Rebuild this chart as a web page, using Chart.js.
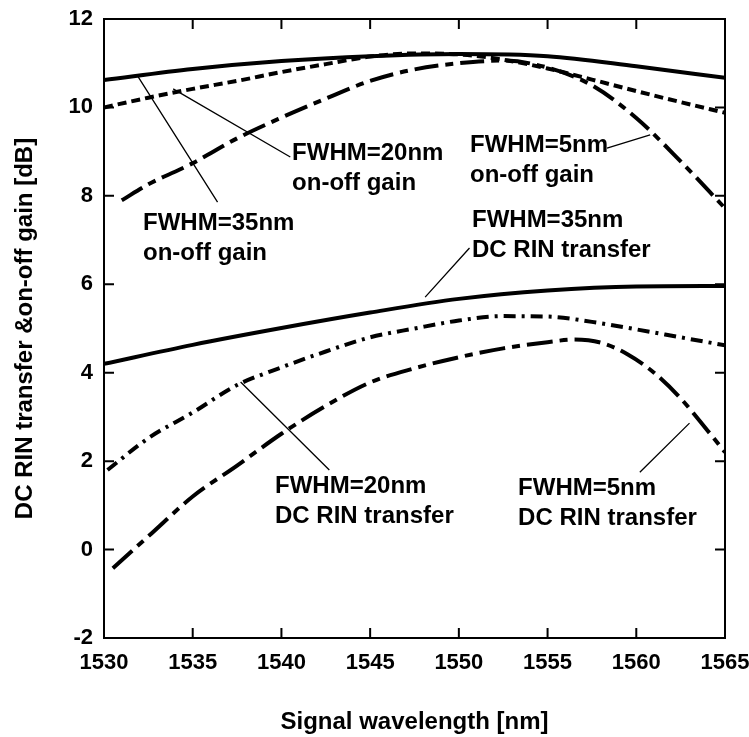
<!DOCTYPE html>
<html><head><meta charset="utf-8">
<script src="https://cdn.jsdelivr.net/npm/chart.js@4.4.1/dist/chart.umd.min.js"></script>
<style>html,body{margin:0;padding:0;background:#fff}</style>
</head><body>
<canvas id="c" width="749" height="737"></canvas>
<script>
// ---- data ----
const xTickValues = [1530, 1535, 1540, 1545, 1550, 1555, 1560, 1565];
const yTickValues = [-2, 0, 2, 4, 6, 8, 10, 12];

const wlGain35 = [1530, 1535, 1540, 1545, 1550, 1555, 1560, 1565];
const gain35   = [10.62, 10.87, 11.05, 11.16, 11.21, 11.16, 10.93, 10.67];

const wlGain20 = [1530, 1532.5, 1535, 1537.5, 1540, 1542.5, 1545, 1547.5, 1550, 1552.5, 1555, 1557.5, 1560, 1562.5, 1565];
const gain20   = [10.0, 10.22, 10.42, 10.6, 10.8, 10.98, 11.15, 11.22, 11.2, 11.08, 10.88, 10.63, 10.37, 10.12, 9.88];

const wlGain5 = [1531, 1532.5, 1535, 1537.5, 1540, 1542.5, 1545, 1547.5, 1550, 1552.5, 1555, 1557.5, 1560, 1562.5, 1565];
const gain5   = [7.9, 8.26, 8.74, 9.3, 9.77, 10.2, 10.6, 10.86, 11.0, 11.06, 10.9, 10.5, 9.76, 8.78, 7.72];

const wlRin35 = [1530, 1535, 1540, 1545, 1550, 1555, 1560, 1565];
const rin35   = [4.2, 4.63, 5.01, 5.36, 5.67, 5.86, 5.95, 5.96];

const wlRin20 = [1530.2, 1532.5, 1535, 1537.5, 1540, 1542.5, 1545, 1547.5, 1550, 1552.5, 1555, 1557.5, 1560, 1562.5, 1565];
const rin20   = [1.8, 2.52, 3.1, 3.72, 4.12, 4.48, 4.8, 5.0, 5.18, 5.28, 5.27, 5.15, 4.98, 4.8, 4.62];

const wlRin5 = [1530.5, 1532.5, 1535, 1537.5, 1540, 1542.5, 1545, 1547.5, 1550, 1552.5, 1555, 1556.5, 1558, 1559.5, 1561, 1562.5, 1564, 1565];
const rin5   = [-0.42, 0.3, 1.2, 1.9, 2.62, 3.25, 3.78, 4.1, 4.35, 4.55, 4.69, 4.75, 4.68, 4.42, 4.0, 3.42, 2.7, 2.2];

// annotation labels: text lines, anchor (wavelength, dB) of first baseline, leader line ends
const noteTexts = [
  ["FWHM=20nm", "on-off gain"],
  ["FWHM=35nm", "on-off gain"],
  ["FWHM=5nm", "on-off gain"],
  ["FWHM=35nm", "DC RIN transfer"],
  ["FWHM=20nm", "DC RIN transfer"],
  ["FWHM=5nm", "DC RIN transfer"]
];
const noteAnchors = [[1540.6, 8.81], [1532.2, 7.23], [1550.63, 8.99], [1550.74, 7.29], [1539.64, 1.28], [1553.34, 1.23]];
const leaders = [
  [[1533.9, 10.42], [1540.5, 8.88]],
  [[1531.9, 10.71], [1536.4, 7.86]],
  [[1558.35, 9.08], [1560.78, 9.38]],
  [[1548.1, 5.71], [1550.6, 6.82]],
  [[1537.7, 3.79], [1542.7, 1.80]],
  [[1563.0, 2.86], [1560.2, 1.75]]
];

const FONT = "'Liberation Sans', Arial, Helvetica, sans-serif";
const pts = (xs, ys) => xs.map((x, i) => ({x, y: ys[i]}));

function ds(xs, ys, dash, w) {
  return {
    data: pts(xs, ys), borderColor: '#000', backgroundColor: '#000',
    borderWidth: w, borderDash: dash, pointRadius: 0, fill: false,
    cubicInterpolationMode: 'monotone', borderCapStyle: 'butt'
  };
}

const framePlugin = {
  id: 'frame',
  afterDraw(chart) {
    const {ctx, chartArea: a, scales: {x, y}} = chart;
    ctx.save();
    ctx.strokeStyle = '#000';
    ctx.lineWidth = 2;
    ctx.strokeRect(a.left, a.top, a.right - a.left, a.bottom - a.top);
    const tl = 10;
    ctx.beginPath();
    xTickValues.forEach(v => {
      const px = x.getPixelForValue(v);
      ctx.moveTo(px, a.bottom); ctx.lineTo(px, a.bottom - tl);
      ctx.moveTo(px, a.top); ctx.lineTo(px, a.top + tl);
    });
    yTickValues.forEach(v => {
      const py = y.getPixelForValue(v);
      ctx.moveTo(a.left, py); ctx.lineTo(a.left + tl, py);
      ctx.moveTo(a.right, py); ctx.lineTo(a.right - tl, py);
    });
    ctx.stroke();
    // leader lines
    ctx.lineWidth = 1.3;
    ctx.beginPath();
    leaders.forEach(([p, q]) => {
      ctx.moveTo(x.getPixelForValue(p[0]), y.getPixelForValue(p[1]));
      ctx.lineTo(x.getPixelForValue(q[0]), y.getPixelForValue(q[1]));
    });
    ctx.stroke();
    // labels
    ctx.fillStyle = '#000';
    ctx.font = "bold 24px " + FONT;
    ctx.textAlign = 'left';
    ctx.textBaseline = 'alphabetic';
    noteTexts.forEach((lines, i) => {
      const px = x.getPixelForValue(noteAnchors[i][0]);
      const py = y.getPixelForValue(noteAnchors[i][1]);
      lines.forEach((t, j) => ctx.fillText(t, px, py + j * 30));
    });
    ctx.restore();
  }
};

new Chart(document.getElementById('c'), {
  type: 'line',
  data: {
    datasets: [
      ds(wlGain35, gain35, [], 4),
      ds(wlGain20, gain20, [9, 5], 4),
      ds(wlGain5, gain5, [24, 7, 8, 7], 4),
      ds(wlRin35, rin35, [], 4),
      ds(wlRin20, rin20, [12, 6, 3, 6], 4),
      ds(wlRin5, rin5, [26, 7, 8, 7], 4)
    ]
  },
  options: {
    responsive: false,
    animation: false,
    devicePixelRatio: 1,
    layout: {padding: {top: 19, right: 24, left: 0, bottom: 0}},
    plugins: {legend: {display: false}, tooltip: {enabled: false}},
    scales: {
      x: {
        type: 'linear', min: 1530, max: 1565,
        afterFit: s => { s.height = 99; s.paddingLeft = 0; s.paddingRight = 0; },
        afterBuildTicks: s => { s.ticks = xTickValues.map(v => ({value: v})); },
        grid: {display: false, drawTicks: false},
        border: {display: false},
        ticks: {color: '#000', padding: 12, maxRotation: 0, autoSkip: false,
                callback: v => String(v),
                font: {family: FONT, size: 22, weight: 'bold'}},
        title: {display: true, text: 'Signal wavelength [nm]', color: '#000',
                padding: {top: 0, bottom: 0},
                font: {family: FONT, size: 24, weight: 'bold'}}
      },
      y: {
        type: 'linear', min: -2, max: 12,
        afterFit: s => { s.width = 104; s.paddingTop = 0; s.paddingBottom = 0; },
        afterBuildTicks: s => { s.ticks = yTickValues.map(v => ({value: v})); },
        grid: {display: false, drawTicks: false},
        border: {display: false},
        ticks: {color: '#000', padding: 11, autoSkip: false,
                callback: v => String(v),
                font: {family: FONT, size: 22, weight: 'bold'}},
        title: {display: true, text: 'DC RIN transfer &on-off gain [dB]', color: '#000',
                padding: {top: 11, bottom: 0},
                font: {family: FONT, size: 24, weight: 'bold'}}
      }
    }
  },
  plugins: [framePlugin]
});
</script>
</body></html>
